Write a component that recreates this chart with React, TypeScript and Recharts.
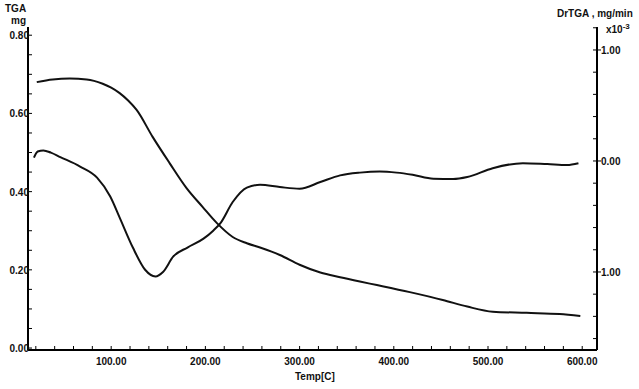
import { LineChart, Line, XAxis, YAxis } from "recharts";

// TGA curve (mg)
const TGA_TEMP = [21, 38, 56, 74, 91, 100, 109, 118, 127, 144, 162, 180, 197, 212, 229, 244, 258, 279, 300, 322, 343, 364, 382, 417, 452, 478, 505, 541, 576, 598];
const TGA_MASS = [0.68, 0.687, 0.689, 0.687, 0.676, 0.666, 0.652, 0.633, 0.609, 0.54, 0.473, 0.409, 0.361, 0.32, 0.284, 0.268, 0.257, 0.238, 0.213, 0.193, 0.181, 0.17, 0.161, 0.143, 0.123, 0.106, 0.093, 0.09, 0.087, 0.082];

// DrTGA curve (mg/min, x10^-3)
const DR_TEMP = [18, 22, 28, 36, 46, 67, 85, 99, 109, 123, 136, 147, 155, 166, 181, 198, 208, 216, 229, 244, 258, 279, 300, 322, 343, 364, 385, 403, 420, 442, 463, 478, 505, 537, 563, 584, 596];
const DR_RATE = [0.03, 0.085, 0.095, 0.075, 0.035, -0.05, -0.15, -0.32, -0.51, -0.78, -0.98, -1.04, -1.0, -0.86, -0.78, -0.7, -0.63, -0.56, -0.37, -0.24, -0.215, -0.235, -0.25, -0.19, -0.13, -0.105, -0.095, -0.105, -0.125, -0.16, -0.163, -0.145, -0.065, -0.02, -0.028, -0.036, -0.02];

// ticks
const X_TICKS = [20, 40, 60, 80, 100, 120, 140, 160, 180, 200, 220, 240, 260, 280, 300, 320, 340, 360, 380, 400, 420, 440, 460, 480, 500, 520, 540, 560, 580, 600];
const X_LABELS = [100, 200, 300, 400, 500, 600];
const LEFT_TICKS = [0, 0.05, 0.1, 0.15, 0.2, 0.25, 0.3, 0.35, 0.4, 0.45, 0.5, 0.55, 0.6, 0.65, 0.7, 0.75, 0.8];
const LEFT_LABELS = [0, 0.2, 0.4, 0.6, 0.8];
const RIGHT_TICKS = [-1.6, -1.4, -1.2, -1, -0.8, -0.6, -0.4, -0.2, 0, 0.2, 0.4, 0.6, 0.8, 1, 1.2];
const RIGHT_LABELS = [-1, 0, 1];

const tgaData = TGA_TEMP.map((t, i) => ({ t, v: TGA_MASS[i] }));
const drData = DR_TEMP.map((t, i) => ({ t, v: DR_RATE[i] }));

const FONT = '"Liberation Sans", Arial, sans-serif';
const txt = { fontFamily: FONT, fontSize: 10, fontWeight: 700, fill: "#111" };

const XTick = (props: any) => {
  const { x, y, payload } = props;
  const major = X_LABELS.includes(payload.value);
  return (
    <g>
      <line x1={x} y1={y} x2={x} y2={y - 4} stroke="#000" strokeWidth={1} />
      {major && (
        <text x={x} y={y + 15} textAnchor="middle" style={txt}>
          {payload.value.toFixed(2)}
        </text>
      )}
    </g>
  );
};

const LeftTick = (props: any) => {
  const { x, y, payload } = props;
  const major = LEFT_LABELS.includes(payload.value);
  return (
    <g>
      <line x1={x} y1={y} x2={x + 4} y2={y} stroke="#000" strokeWidth={1} />
      {major && (
        <text x={x + 1} y={y + 4} textAnchor="end" style={txt}>
          {payload.value.toFixed(2)}
        </text>
      )}
    </g>
  );
};

const RightTick = (props: any) => {
  const { x, y, payload } = props;
  const major = RIGHT_LABELS.includes(payload.value);
  return (
    <g>
      <line x1={x - 4} y1={y} x2={major ? x + 4 : x} y2={y} stroke="#000" strokeWidth={1} />
      {major && (
        <text x={x + 4} y={y + 4} textAnchor="start" style={txt}>
          {Math.abs(payload.value).toFixed(2)}
        </text>
      )}
    </g>
  );
};

const label = (left: number, top: number, text: React.ReactNode) => (
  <div
    style={{
      position: "absolute",
      left,
      top,
      fontFamily: FONT,
      fontSize: 10,
      fontWeight: 700,
      color: "#111",
      whiteSpace: "nowrap",
      lineHeight: "12px",
    }}
  >
    {text}
  </div>
);

export default function App() {
  return (
    <div style={{ position: "absolute", left: 0, top: 0, width: 639, height: 389, background: "#fff" }}>
      <LineChart width={639} height={389} margin={{ top: 27, right: 0, bottom: 0, left: 0 }}>
        <XAxis
          dataKey="t"
          type="number"
          domain={[11.7, 615.7]}
          allowDataOverflow
          ticks={X_TICKS}
          interval={0}
          height={39}
          tickSize={0}
          tickMargin={0}
          tick={<XTick />}
          axisLine={{ stroke: "#000", strokeWidth: 2 }}
        />
        <XAxis
          xAxisId="top"
          orientation="top"
          dataKey="t"
          type="number"
          domain={[11.7, 615.7]}
          height={0}
          tick={false}
          tickLine={false}
          axisLine={{ stroke: "#000", strokeWidth: 2 }}
        />
        <YAxis
          yAxisId="left"
          type="number"
          domain={[-0.005, 0.821]}
          allowDataOverflow
          ticks={LEFT_TICKS}
          interval={0}
          width={28}
          tickSize={0}
          tickMargin={0}
          tick={<LeftTick />}
          axisLine={{ stroke: "#000", strokeWidth: 2 }}
        />
        <YAxis
          yAxisId="right"
          orientation="right"
          type="number"
          domain={[-1.703, 1.207]}
          allowDataOverflow
          ticks={RIGHT_TICKS}
          interval={0}
          width={42}
          tickSize={0}
          tickMargin={0}
          tick={<RightTick />}
          axisLine={{ stroke: "#000", strokeWidth: 2 }}
        />
        <Line
          data={tgaData}
          yAxisId="left"
          dataKey="v"
          type="monotone"
          stroke="#111"
          strokeWidth={2}
          dot={false}
          isAnimationActive={false}
        />
        <Line
          data={drData}
          yAxisId="right"
          dataKey="v"
          type="monotone"
          stroke="#111"
          strokeWidth={2}
          dot={false}
          isAnimationActive={false}
        />
      </LineChart>
      {label(5, 3, "TGA")}
      {label(11, 15, "mg")}
      {label(557, 8, "DrTGA , mg/min")}
      {label(606, 24, (
        <span>
          x10<sup style={{ fontSize: 8, verticalAlign: "4px", lineHeight: 0 }}>-3</sup>
        </span>
      ))}
      {label(295, 371, "Temp[C]")}
    </div>
  );
}
